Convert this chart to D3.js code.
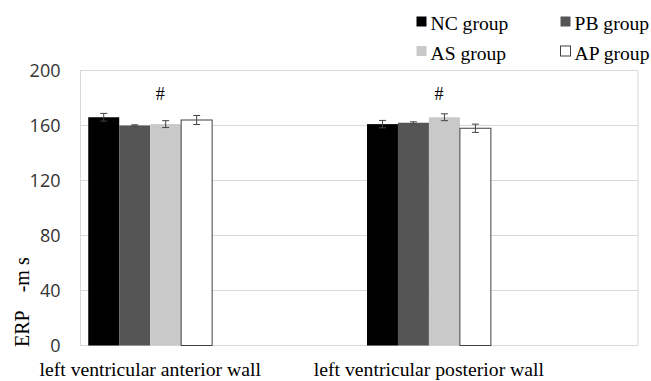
<!DOCTYPE html>
<html>
<head>
  <meta charset="utf-8">
  <script src="https://cdnjs.cloudflare.com/ajax/libs/d3/7.8.5/d3.min.js"></script>
  <style>
    body { margin: 0; padding: 0; background: #fff; }
    .tick-y text { font: 18px "Open Sans", sans-serif; fill: #333; }
    .serif { font-family: "Liberation Serif", "Times New Roman", serif; fill: #000; }
  </style>
</head>
<body>
<svg width="651" height="381"></svg>
<script>
  // data
  let categories = ["left ventricular anterior wall", "left ventricular posterior wall"];
  let groups = ["NC group", "PB group", "AS group", "AP group"];
  let ncValues = [166, 161];
  let pbValues = [160, 162];
  let asValues = [161, 166];
  let apValues = [164, 158];
  let ncErr = [2.8, 2.7];
  let pbErr = [0.5, 0.7];
  let asErr = [2.5, 2.5];
  let apErr = [3.3, 3.0];
  let yTicks = [0, 40, 80, 120, 160, 200];
  let marks = ["#", "#"];

  let svg = d3.select("svg"),
    margin = {top: 70.5, right: 13, bottom: 35.5, left: 80.5},
    width = 651 - margin.left - margin.right,
    height = 381 - margin.top - margin.bottom,
    g = svg.append("g").attr("transform", "translate(" + margin.left + "," + margin.top + ")");

  let fills = ["#000000", "#555555", "#c9c9c9", "#ffffff"];
  let series = [ncValues, pbValues, asValues, apValues];
  let errs = [ncErr, pbErr, asErr, apErr];

  // four slots on the axis, the 2nd and 4th stay empty
  let slots = [categories[0], "_gap1", categories[1], "_gap2"];
  let x0 = d3.scaleBand().domain(slots).range([0, width]);
  let x1 = d3.scaleBand().domain(groups).range([0, x0.bandwidth()]).paddingOuter(0.25);
  let y = d3.scaleLinear().domain([0, 200]).range([height, 0]);

  //gridlines
  g.selectAll(".grid")
    .data(yTicks)
    .enter().append("line")
    .attr("x1", 0).attr("x2", width)
    .attr("y1", d => y(d)).attr("y2", d => y(d))
    .attr("stroke", "#d9d9d9").attr("stroke-width", 1);

  //frame
  g.append("rect")
    .attr("x", 0).attr("y", 0)
    .attr("width", width).attr("height", height)
    .attr("fill", "none").attr("stroke", "#d9d9d9");

  //y axis labels
  let yAxis = g.append("g").attr("class", "tick-y")
    .call(d3.axisLeft(y).tickValues(yTicks).tickSize(0).tickPadding(20));
  yAxis.select(".domain").remove();

  //bars
  let rows = [];
  categories.forEach(function(c, i) {
    groups.forEach(function(gr, j) {
      rows.push({cat: c, group: gr, value: series[j][i], err: errs[j][i], fill: fills[j]});
    });
  });

  g.selectAll(".bar")
    .data(rows)
    .enter().append("rect")
    .attr("x", d => x0(d.cat) + x1(d.group))
    .attr("y", d => y(d.value))
    .attr("width", x1.bandwidth())
    .attr("height", d => height - y(d.value))
    .attr("fill", d => d.fill)
    .attr("stroke", d => d.fill == "#ffffff" ? "#404040" : "none")
    .attr("stroke-width", 1);

  //error bars
  let eb = g.selectAll(".err").data(rows).enter().append("g")
    .attr("transform", d => "translate(" + (x0(d.cat) + x1(d.group) + x1.bandwidth() / 2) + ",0)")
    .attr("stroke", "#444").attr("stroke-width", 1);
  eb.append("line").attr("y1", d => y(d.value - d.err)).attr("y2", d => y(d.value + d.err));
  eb.append("line").attr("x1", -3.5).attr("x2", 3.5)
    .attr("y1", d => y(d.value - d.err)).attr("y2", d => y(d.value - d.err));
  eb.append("line").attr("x1", -3.5).attr("x2", 3.5)
    .attr("y1", d => y(d.value + d.err)).attr("y2", d => y(d.value + d.err));

  //significance marks
  g.selectAll(".mark")
    .data(marks)
    .enter().append("text")
    .attr("class", "serif")
    .attr("x", (d, i) => x0(categories[i]) + x1("AS group") + 10)
    .attr("y", 29)
    .attr("text-anchor", "middle")
    .style("font-size", "18px")
    .text(d => d);

  //category labels
  g.selectAll(".cat")
    .data(categories)
    .enter().append("text")
    .attr("class", "serif")
    .attr("x", d => x0(d) + x0.bandwidth() / 2)
    .attr("y", height + 30.5)
    .attr("text-anchor", "middle")
    .style("font-size", "19.7px")
    .text(d => d);

  //y title
  let yt = svg.append("text")
    .attr("class", "serif")
    .attr("transform", "translate(29,347) rotate(-90)")
    .style("font-size", "20px");
  yt.append("tspan").text("ERP");
  yt.append("tspan").attr("dx", 18).text("-m s");

  //legend
  let legend = svg.selectAll(".legend")
    .data(groups)
    .enter().append("g")
    .attr("transform", (d, i) => "translate(" + (416.5 + (i % 2) * 144) + "," + (16.5 + Math.floor(i / 2) * 29.5) + ")");
  legend.append("rect")
    .attr("width", 10).attr("height", 10)
    .attr("fill", (d, i) => fills[i])
    .attr("stroke", (d, i) => i == 3 ? "#404040" : "none");
  legend.append("text")
    .attr("class", "serif")
    .attr("x", 14).attr("y", 13.5)
    .style("font-size", "19.6px")
    .text(d => d);
</script>
</body>
</html>
